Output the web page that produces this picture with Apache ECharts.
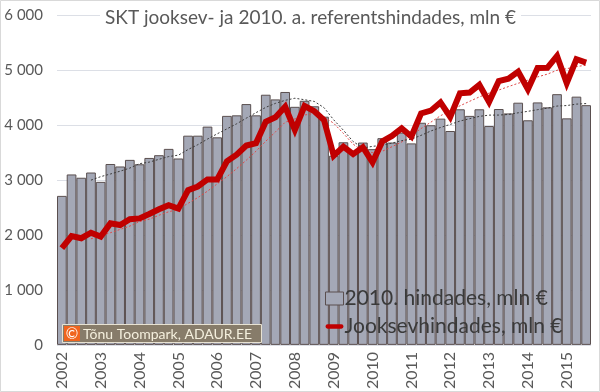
<!DOCTYPE html>
<html>
<head>
<meta charset="utf-8">
<script src="https://cdn.jsdelivr.net/npm/echarts@6/dist/echarts.min.js"></script>
<style>
html,body{margin:0;padding:0;background:#fff;}
#c{width:600px;height:392px;}
</style>
</head>
<body>
<div id="c"></div>
<script>
// Quarters 2002 Q1 .. 2015 Q3
const years = ['2002','2003','2004','2005','2006','2007','2008','2009','2010','2011','2012','2013','2014','2015'];
const quarters = ['I','II','III','IV'];
const quarterCount = 55;

// GDP at 2010 reference prices, mln €
const realGdp = [
  2710, 3100, 3040, 3135,
  2965, 3290, 3245, 3365,
  3285, 3400, 3450, 3565,
  3390, 3805, 3805, 3970,
  3775, 4165, 4175, 4380,
  4175, 4550, 4465, 4600,
  4330, 4440, 4340, 4150,
  3440, 3685, 3520, 3680,
  3560, 3760, 3680, 3860,
  3665, 4040, 3995, 4115,
  3890, 4285, 4165, 4285,
  3980, 4290, 4210, 4405,
  4085, 4410, 4320, 4560,
  4120, 4515, 4360
];
// GDP at current prices, mln €
const nominalGdp = [
  1760, 1980, 1940, 2040,
  1970, 2210, 2180, 2285,
  2300, 2380, 2465, 2540,
  2480, 2815, 2880, 3010,
  3010, 3340, 3460, 3625,
  3670, 4060, 4140, 4330,
  3910, 4345, 4250, 4090,
  3440, 3605, 3470, 3595,
  3320, 3700, 3800, 3940,
  3790, 4210, 4260, 4410,
  4145, 4575, 4590, 4730,
  4420, 4800, 4840, 4970,
  4650, 5035, 5040, 5255,
  4760, 5195, 5135
];
const yTicks = [0, 1000, 2000, 3000, 4000, 5000, 6000];

const categories = [];
for (let i = 0; i < quarterCount; i++) {
  categories.push(years[Math.floor(i / 4)] + ' ' + quarters[i % 4]);
}
// 4-period moving average trendlines (as in the original spreadsheet)
function movingAvg(arr, n) {
  return arr.map((v, i) => {
    if (i < n - 1) return '-';
    let s = 0;
    for (let k = i - n + 1; k <= i; k++) s += arr[k];
    return Math.round(s / n);
  });
}
const fmt = v => String(v).replace(/\B(?=(\d{3})+(?!\d))/g, ' ');
const FONT = 'Lato, sans-serif';

const chart = echarts.init(document.getElementById('c'), null, {renderer: 'canvas'});
chart.setOption({
  backgroundColor: '#ffffff',
  animation: false,
  title: {
    text: 'SKT jooksev- ja 2010. a. referentshindades, mln €',
    left: 100, top: 6,
    backgroundColor: '#ffffff',
    padding: [2, 5],
    textStyle: {fontFamily: FONT, fontSize: 19, fontWeight: 'normal', color: '#595959'}
  },
  grid: {left: 57, right: 9, top: 15, bottom: 47, containLabel: false},
  legend: {
    orient: 'vertical',
    left: 325, top: 288,
    itemWidth: 18, itemHeight: 13,
    itemGap: 7,
    padding: 0,
    textStyle: {fontFamily: FONT, fontSize: 21, color: '#3a3a3a', padding: [0, 0, 0, -4]},
    data: [
      {name: '2010. hindades, mln €', icon: 'rect', itemStyle: {color: '#a4a8b6', borderColor: '#5a4f4f', borderWidth: 1}},
      {name: 'Jooksevhindades, mln €', icon: 'path://M2,0h16a2,2 0 0 1 0,5h-16a2,2 0 0 1 0,-5z', itemStyle: {color: '#c00000'}}
    ]
  },
  xAxis: {
    type: 'category',
    data: categories,
    boundaryGap: true,
    axisLine: {show: false},
    axisTick: {show: false},
    axisLabel: {
      interval: 3,
      rotate: 90,
      margin: 7,
      fontFamily: FONT, fontSize: 16, color: '#595959',
      formatter: v => v.split(' ')[0]
    }
  },
  yAxis: {
    type: 'value',
    min: yTicks[0], max: yTicks[yTicks.length - 1], interval: 1000,
    axisLine: {show: false},
    axisTick: {show: false},
    splitLine: {lineStyle: {color: '#dcdfe6', width: 1}},
    axisLabel: {margin: 14, fontFamily: FONT, fontSize: 15, color: '#595959', formatter: fmt}
  },
  series: [
    {
      name: '2010. hindades, mln €',
      type: 'bar',
      data: realGdp,
      barCategoryGap: '0%',
      itemStyle: {color: '#a4a8b6', borderColor: '#5a4f4f', borderWidth: 1},
      z: 1
    },
    {
      name: 'MA real',
      type: 'line',
      data: movingAvg(realGdp, 4),
      symbol: 'none',
      lineStyle: {color: '#3c3c3c', width: 1, type: [2, 2]},
      z: 3
    },
    {
      name: 'MA nominal',
      type: 'line',
      data: movingAvg(nominalGdp, 4),
      symbol: 'none',
      lineStyle: {color: '#e04848', width: 1, type: [2, 2]},
      z: 2
    },
    {
      name: 'Jooksevhindades, mln €',
      type: 'line',
      data: nominalGdp,
      symbol: 'none',
      lineStyle: {color: '#c00000', width: 6, join: 'miter'},
      itemStyle: {color: '#c00000'},
      z: 4
    }
  ]
});
chart.setOption({
  graphic: {
    elements: [
      {
        type: 'rect', x: 0, y: 0, silent: true, z: 100,
        shape: {x: 0.5, y: 0.5, width: 599, height: 391},
        style: {fill: null, stroke: '#d9d9d9', lineWidth: 1}
      },
      {
        type: 'rect', x: 62, y: 324, z: 50,
        shape: {x: 0.5, y: 0.5, width: 199, height: 18},
        style: {fill: '#877c6a', stroke: '#e8e2d2', lineWidth: 1}
      },
      {
        type: 'rect', x: 64, y: 326, z: 51,
        shape: {x: 0, y: 0, width: 16, height: 15},
        style: {fill: '#f0641e'}
      },
      {
        type: 'text', x: 72, y: 334, z: 52,
        style: {text: '©', fill: '#ffffff', fontSize: 15, fontFamily: 'Lato', align: 'center', verticalAlign: 'middle'}
      },
      {
        type: 'text', x: 83, y: 334, z: 52,
        style: {text: 'Tõnu Toompark, ADAUR.EE', fill: '#f4efdd', fontSize: 14, fontFamily: 'Lato', verticalAlign: 'middle'}
      }
    ]
  }
});
</script>
</body>
</html>
